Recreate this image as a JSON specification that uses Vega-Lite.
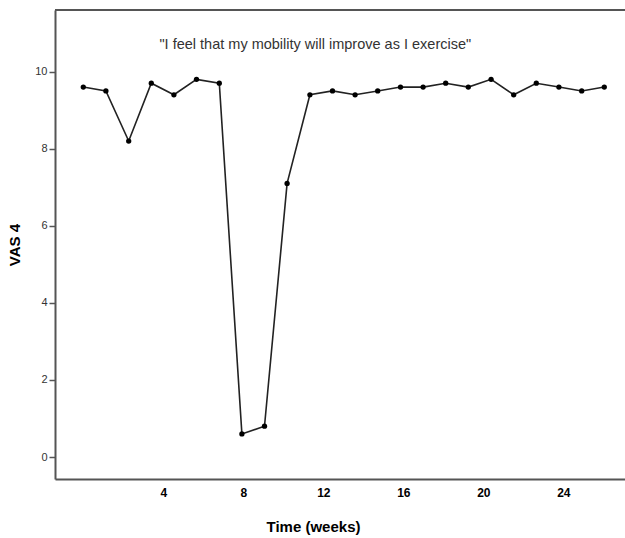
{
  "$schema": "https://vega.github.io/schema/vega-lite/v6.json",
  "autosize": {"type": "none"},
  "padding": {"left": 55, "top": 10, "right": 0, "bottom": 59},
  "width": 570,
  "height": 469,
  "background": "white",
  "config": {
    "view": {"stroke": null},
    "font": "Liberation Sans"
  },
  "data": {
    "values": [
      {"week": 0.0, "vas": 9.6},
      {"week": 1.13, "vas": 9.5},
      {"week": 2.27, "vas": 8.2},
      {"week": 3.4, "vas": 9.7},
      {"week": 4.53, "vas": 9.4},
      {"week": 5.66, "vas": 9.8},
      {"week": 6.8, "vas": 9.7},
      {"week": 7.93, "vas": 0.6},
      {"week": 9.06, "vas": 0.8},
      {"week": 10.19, "vas": 7.1},
      {"week": 11.33, "vas": 9.4},
      {"week": 12.46, "vas": 9.5},
      {"week": 13.59, "vas": 9.4},
      {"week": 14.72, "vas": 9.5},
      {"week": 15.86, "vas": 9.6},
      {"week": 16.99, "vas": 9.6},
      {"week": 18.12, "vas": 9.7},
      {"week": 19.25, "vas": 9.6},
      {"week": 20.39, "vas": 9.8},
      {"week": 21.52, "vas": 9.4},
      {"week": 22.65, "vas": 9.7},
      {"week": 23.78, "vas": 9.6},
      {"week": 24.92, "vas": 9.5},
      {"week": 26.05, "vas": 9.6}
    ]
  },
  "encoding": {
    "x": {
      "field": "week",
      "type": "quantitative",
      "scale": {"domain": [-1.415, 27.085], "nice": false, "zero": false},
      "axis": {
        "values": [4, 8, 12, 16, 20, 24],
        "grid": false,
        "ticks": false,
        "domainColor": "#555555",
        "domainWidth": 2,
        "labelFont": "Liberation Sans",
        "labelFontWeight": "bold",
        "labelFontSize": 12,
        "labelColor": "#000000",
        "labelPadding": 8,
        "title": "Time (weeks)",
        "titleFont": "Liberation Sans",
        "titleFontSize": 15,
        "titleFontWeight": "bold",
        "titleColor": "#000000",
        "titleX": 258,
        "titleY": 47,
        "titleBaseline": "middle",
        "titleAnchor": null
      }
    },
    "y": {
      "field": "vas",
      "type": "quantitative",
      "scale": {"domain": [-0.57, 11.6], "nice": false, "zero": false},
      "axis": {
        "values": [0, 2, 4, 6, 8, 10],
        "grid": false,
        "tickSize": 6,
        "tickColor": "#555555",
        "tickWidth": 1.5,
        "domainColor": "#555555",
        "domainWidth": 2,
        "labelFont": "Liberation Sans",
        "labelFontSize": 11,
        "labelColor": "#333333",
        "labelPadding": 2,
        "title": "VAS 4",
        "titleFont": "Liberation Sans",
        "titleFontSize": 15,
        "titleFontWeight": "bold",
        "titleColor": "#000000",
        "titlePadding": 12
      }
    }
  },
  "layer": [
    {
      "mark": {"type": "rule", "color": "#555555", "strokeWidth": 2},
      "encoding": {"y": {"datum": 11.6}, "x": null}
    },
    {
      "mark": {"type": "line", "color": "#222222", "strokeWidth": 1.6}
    },
    {
      "mark": {"type": "point", "filled": true, "color": "#000000", "size": 28, "opacity": 1}
    },
    {
      "transform": [{"filter": "datum.week == 0"}],
      "mark": {"type": "text", "font": "Liberation Sans", "fontSize": 14.5, "fontWeight": "normal", "color": "#333333", "align": "center", "baseline": "middle"},
      "encoding": {
        "x": {"datum": 11.6},
        "y": {"datum": 10.7},
        "text": {"value": "\"I feel that my mobility will improve as I exercise\""}
      }
    }
  ]
}
